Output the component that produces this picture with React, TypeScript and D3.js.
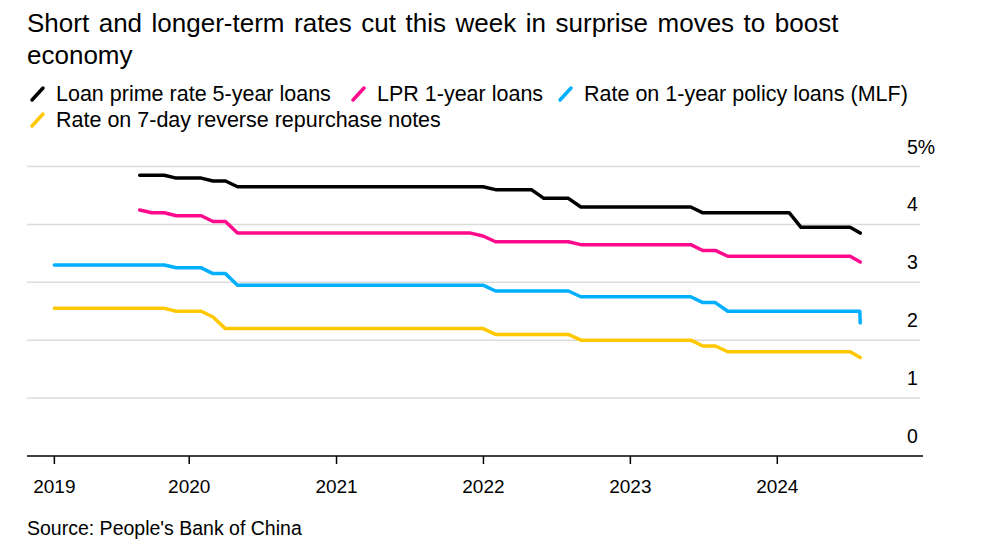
import React from "react";
import * as d3 from "d3";

// ---------- data ----------
const TITLE_LINES = [
  "Short and longer-term rates cut this week in surprise moves to boost",
  "economy",
];
const SOURCE = "Source: People's Bank of China";

// month-end observations, Jan 2019 .. Jun 2024
const MONTHS = [
  "2019-01","2019-02","2019-03","2019-04","2019-05","2019-06","2019-07","2019-08","2019-09","2019-10","2019-11","2019-12",
  "2020-01","2020-02","2020-03","2020-04","2020-05","2020-06","2020-07","2020-08","2020-09","2020-10","2020-11","2020-12",
  "2021-01","2021-02","2021-03","2021-04","2021-05","2021-06","2021-07","2021-08","2021-09","2021-10","2021-11","2021-12",
  "2022-01","2022-02","2022-03","2022-04","2022-05","2022-06","2022-07","2022-08","2022-09","2022-10","2022-11","2022-12",
  "2023-01","2023-02","2023-03","2023-04","2023-05","2023-06","2023-07","2023-08","2023-09","2023-10","2023-11","2023-12",
  "2024-01","2024-02","2024-03","2024-04","2024-05","2024-06",
];

// latest daily observations (this week)
const LATEST_DATES = ["2024-07-24", "2024-07-25"];

const N = null;
const LPR5Y = [
  N,N,N,N,N,N,N,4.85,4.85,4.85,4.80,4.80,
  4.80,4.75,4.75,4.65,4.65,4.65,4.65,4.65,4.65,4.65,4.65,4.65,
  4.65,4.65,4.65,4.65,4.65,4.65,4.65,4.65,4.65,4.65,4.65,4.65,
  4.60,4.60,4.60,4.60,4.45,4.45,4.45,4.30,4.30,4.30,4.30,4.30,
  4.30,4.30,4.30,4.30,4.30,4.20,4.20,4.20,4.20,4.20,4.20,4.20,
  4.20,3.95,3.95,3.95,3.95,3.95,
];
const LPR5Y_LATEST = [N, 3.85];

const LPR1Y = [
  N,N,N,N,N,N,N,4.25,4.20,4.20,4.15,4.15,
  4.15,4.05,4.05,3.85,3.85,3.85,3.85,3.85,3.85,3.85,3.85,3.85,
  3.85,3.85,3.85,3.85,3.85,3.85,3.85,3.85,3.85,3.85,3.85,3.80,
  3.70,3.70,3.70,3.70,3.70,3.70,3.70,3.65,3.65,3.65,3.65,3.65,
  3.65,3.65,3.65,3.65,3.65,3.55,3.55,3.45,3.45,3.45,3.45,3.45,
  3.45,3.45,3.45,3.45,3.45,3.45,
];
const LPR1Y_LATEST = [N, 3.35];

const MLF = [
  3.30,3.30,3.30,3.30,3.30,3.30,3.30,3.30,3.30,3.30,3.25,3.25,
  3.25,3.15,3.15,2.95,2.95,2.95,2.95,2.95,2.95,2.95,2.95,2.95,
  2.95,2.95,2.95,2.95,2.95,2.95,2.95,2.95,2.95,2.95,2.95,2.95,
  2.85,2.85,2.85,2.85,2.85,2.85,2.85,2.75,2.75,2.75,2.75,2.75,
  2.75,2.75,2.75,2.75,2.75,2.65,2.65,2.50,2.50,2.50,2.50,2.50,
  2.50,2.50,2.50,2.50,2.50,2.50,
];
const MLF_LATEST = [2.50, 2.30];

const RR7D = [
  2.55,2.55,2.55,2.55,2.55,2.55,2.55,2.55,2.55,2.55,2.50,2.50,
  2.50,2.40,2.20,2.20,2.20,2.20,2.20,2.20,2.20,2.20,2.20,2.20,
  2.20,2.20,2.20,2.20,2.20,2.20,2.20,2.20,2.20,2.20,2.20,2.20,
  2.10,2.10,2.10,2.10,2.10,2.10,2.10,2.00,2.00,2.00,2.00,2.00,
  2.00,2.00,2.00,2.00,2.00,1.90,1.90,1.80,1.80,1.80,1.80,1.80,
  1.80,1.80,1.80,1.80,1.80,1.80,
];
const RR7D_LATEST = [N, 1.70];

const SERIES_NAMES = [
  "Loan prime rate 5-year loans",
  "LPR 1-year loans",
  "Rate on 1-year policy loans (MLF)",
  "Rate on 7-day reverse repurchase notes",
];
const SERIES_COLORS = ["#000000", "#ff0a8c", "#00b0ff", "#ffc800"];

const X_TICK_DATES = ["2019-01-31", "2020-01-01", "2021-01-01", "2022-01-01", "2023-01-01", "2024-01-01"];
const X_TICK_LABELS = ["2019", "2020", "2021", "2022", "2023", "2024"];
const Y_TICKS = [0, 1, 2, 3, 4, 5];
const X_DOMAIN = ["2018-11-24", "2024-12-28"];

// ---------- helpers ----------
const parseDay = (s: string) => new Date(s + "T00:00:00Z");
const monthEnd = (s: string) => {
  const [y, m] = s.split("-").map(Number);
  return new Date(Date.UTC(y, m, 0));
};

type Pt = { date: Date; value: number | null };
function buildSeries(monthly: (number | null)[], latest: (number | null)[]): Pt[] {
  const pts: Pt[] = MONTHS.map((m, i) => ({ date: monthEnd(m), value: monthly[i] }));
  LATEST_DATES.forEach((d, i) => {
    if (latest[i] !== null) pts.push({ date: parseDay(d), value: latest[i] });
  });
  return pts;
}

const FONT = "'Liberation Sans', Arial, Helvetica, sans-serif";

export default function App() {
  const W = 981;
  const H = 548;

  const x = d3.scaleUtc().domain(X_DOMAIN.map(parseDay)).range([27, 923]);
  const y = d3.scaleLinear().domain([0, 5]).range([456, 166.5]);

  const series = [
    buildSeries(LPR5Y, LPR5Y_LATEST),
    buildSeries(LPR1Y, LPR1Y_LATEST),
    buildSeries(MLF, MLF_LATEST),
    buildSeries(RR7D, RR7D_LATEST),
  ];

  const line = d3
    .line<Pt>()
    .defined((d) => d.value !== null)
    .x((d) => x(d.date))
    .y((d) => y(d.value as number));

  const legendRows = [
    [
      { i: 0, x: 28 },
      { i: 1, x: 349 },
      { i: 2, x: 556 },
    ],
    [{ i: 3, x: 28 }],
  ];
  const legendBaselines = [101, 127];

  return (
    <svg
      width={W}
      height={H}
      style={{ position: "absolute", left: 0, top: 0, background: "#fff" }}
      fontFamily={FONT}
    >
      <rect width={W} height={H} fill="#fff" />
      {TITLE_LINES.map((t, i) => (
        <text key={i} x={27} y={32 + i * 31.5} fontSize={26} wordSpacing={2.3} fill="#000">
          {t}
        </text>
      ))}

      {legendRows.map((row, r) =>
        row.map((it) => (
          <g key={`${r}-${it.i}`}>
            <line
              x1={it.x + 4}
              y1={legendBaselines[r] - 1}
              x2={it.x + 15}
              y2={legendBaselines[r] - 13}
              stroke={SERIES_COLORS[it.i]}
              strokeWidth={3.5}
              strokeLinecap="round"
            />
            <text x={it.x + 28} y={legendBaselines[r]} fontSize={21.5} fill="#000">
              {SERIES_NAMES[it.i]}
            </text>
          </g>
        ))
      )}

      {/* gridlines */}
      {Y_TICKS.filter((v) => v > 0).map((v) => (
        <line key={v} x1={27} x2={920} y1={y(v)} y2={y(v)} stroke="#dcdcdc" strokeWidth={1.5} />
      ))}
      {Y_TICKS.map((v) => (
        <text key={"yl" + v} x={907} y={y(v) - 13} fontSize={19.5} fill="#000">
          {v === 5 ? "5%" : String(v)}
        </text>
      ))}

      {/* series */}
      {series
        .map((s, i) => ({ s, i }))
        .reverse()
        .map(({ s, i }) => (
          <path
            key={i}
            d={line(s) || ""}
            fill="none"
            stroke={SERIES_COLORS[i]}
            strokeWidth={3.5}
            strokeLinejoin="round"
            strokeLinecap="round"
          />
        ))}

      {/* x axis */}
      <line x1={27} x2={923} y1={y(0)} y2={y(0)} stroke="#000" strokeWidth={1.5} />
      {X_TICK_DATES.map((d, i) => {
        const px = x(parseDay(d));
        return (
          <g key={d}>
            <line x1={px} x2={px} y1={y(0)} y2={y(0) + 8} stroke="#000" strokeWidth={1.5} />
            <text x={px} y={493} fontSize={19} textAnchor="middle" fill="#000">
              {X_TICK_LABELS[i]}
            </text>
          </g>
        );
      })}

      <text x={27} y={535} fontSize={19.5} fill="#000">
        {SOURCE}
      </text>
    </svg>
  );
}
